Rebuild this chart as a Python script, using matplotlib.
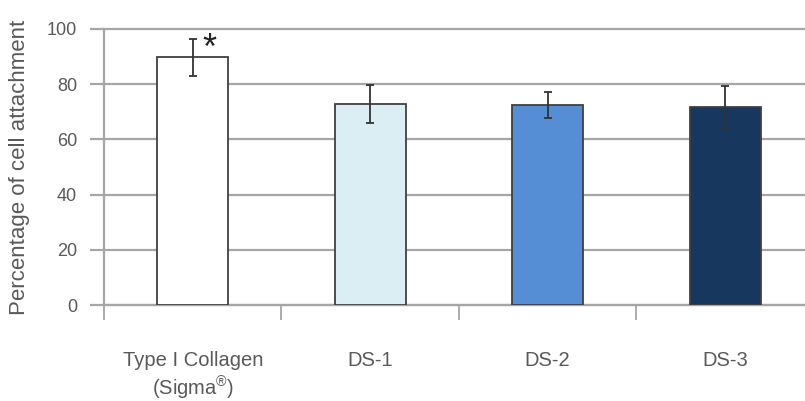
import matplotlib
matplotlib.use('Agg')
import matplotlib.pyplot as plt

plt.rcParams['font.family'] = ['Liberation Sans', 'DejaVu Sans']
plt.rcParams['mathtext.fontset'] = 'custom'
plt.rcParams['mathtext.rm'] = 'Liberation Sans'

categories = ['Type I Collagen\n(Sigma$^{\\mathrm{\u00ae}}$)', 'DS-1', 'DS-2', 'DS-3']
values = [89.7, 72.7, 72.5, 71.7]
errors = [6.8, 6.9, 4.7, 7.5]
colors = ['#ffffff', '#dbeef4', '#558ed5', '#17375e']

text_color = '#595959'
grid_color = '#a6a6a6'

fig = plt.figure(figsize=(8.05, 4.01), dpi=100)
ax = fig.add_axes([0.1292, 0.2394, 0.8708, 0.6883])

x = list(range(len(categories)))
ax.bar(x, values, width=0.40, color=colors, edgecolor='#404040', linewidth=1.3, zorder=3)
ax.errorbar(x, values, yerr=errors, fmt='none', ecolor='#333333',
            elinewidth=1.3, capsize=3, capthick=1.3, zorder=4)

# significance mark above the collagen bar
ax.text(0.093, 92.5, '*', fontsize=26, color='#222222', ha='center', va='center', zorder=5)

ax.set_xlim(-0.5, 3.45)
ax.set_ylim(0, 100)
ax.set_yticks([0, 20, 40, 60, 80, 100])
ax.yaxis.grid(True, color=grid_color, linewidth=1.6, zorder=0)
for gl in ax.get_ygridlines():
    gl.set_clip_on(False)
ax.set_axisbelow(True)

ax.set_xticks(x)
ax.set_xticklabels(categories, fontsize=14.5, color=text_color, linespacing=1.25)
ax.set_xticks([-0.5, 0.5, 1.5, 2.5], minor=True)
ax.tick_params(axis='x', which='major', length=0, pad=33)
ax.tick_params(axis='x', which='minor', length=11, width=1.3, color=grid_color, direction='out')
ax.tick_params(axis='y', length=10, width=1.6, color=grid_color, labelsize=13,
               labelcolor=text_color, pad=9.5)

for side in ['top', 'right']:
    ax.spines[side].set_visible(False)
for side in ['left', 'bottom']:
    ax.spines[side].set_color(grid_color)
    ax.spines[side].set_linewidth(1.6)

ax.set_ylabel('Percentage of cell attachment', fontsize=16, color=text_color, labelpad=12)

fig.savefig('out.png', dpi=100)
